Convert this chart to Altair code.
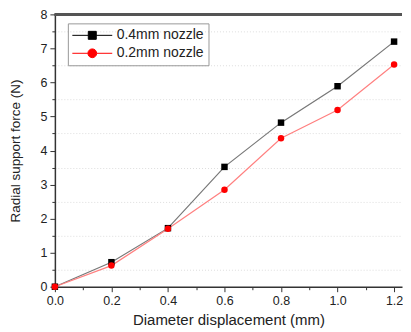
import altair as alt
import pandas as pd

displacement = [0.0, 0.2, 0.4, 0.6, 0.8, 1.0, 1.2]
force_04 = [0.0, 0.72, 1.72, 3.52, 4.82, 5.89, 7.2]
force_02 = [0.0, 0.62, 1.70, 2.85, 4.36, 5.19, 6.53]
series = ["0.4mm nozzle", "0.2mm nozzle"]

rows = []
for s, vals in zip(series, [force_04, force_02]):
    for d, v in zip(displacement, vals):
        rows.append({"d": d, "f": v, "series": s})
df = pd.DataFrame(rows)

FONT = "Liberation Sans"
xticks = [round(i * 0.1, 1) for i in range(13)]
yticks = [i * 0.5 for i in range(17)]
W, H = 348, 273

x_enc = alt.X(
    "d:Q",
    scale=alt.Scale(domain=[0, 1.228], nice=False),
    axis=alt.Axis(
        values=xticks,
        title="Diameter displacement (mm)",
        labelExpr="abs(round(datum.value*10) % 2) == 0 ? format(datum.value, '.1f') : ''",
        tickSize={"condition": {"test": "abs(round(datum.value*10) % 2) == 0", "value": 5}, "value": 3},
        labelOverlap=False,
        labelFlush=False,
        grid=False,
        domainColor="#333333",
        domainWidth=1.5,
        tickColor="#333333",
        labelFont=FONT,
        labelFontSize=12.5,
        labelColor="#222222",
        labelPadding=3,
        titleFont=FONT,
        titleFontSize=15,
        titleFontWeight="normal",
        titleColor="#222222",
        titlePadding=5,
    ),
)
y_enc = alt.Y(
    "f:Q",
    scale=alt.Scale(domain=[0, 8], nice=False),
    axis=alt.Axis(
        values=yticks,
        title="Radial support force (N)",
        labelExpr="datum.value % 1 == 0 ? format(datum.value, 'd') : ''",
        tickSize={"condition": {"test": "datum.value % 1 == 0", "value": 5}, "value": 3},
        labelOverlap=False,
        labelFlush=False,
        grid=True,
        gridColor={"condition": {"test": "datum.value % 1 != 0", "value": "#dddddd"}, "value": "transparent"},
        gridDash=[1, 2],
        gridWidth=1,
        domainColor="#333333",
        domainWidth=1.5,
        tickColor="#333333",
        labelFont=FONT,
        labelFontSize=12.5,
        labelColor="#222222",
        labelPadding=3,
        titleFont=FONT,
        titleFontSize=13.5,
        titleFontWeight="normal",
        titleColor="#222222",
        titlePadding=18,
    ),
)

color_scale = alt.Scale(domain=series, range=["#000000", "#ff0000"])
line_scale = alt.Scale(domain=series, range=["#777777", "#ff8080"])
legend_paths = [
    "M-1,0H-0.2V-0.2H0.2V0.2H-0.2V0H0.2H1",
    "M-1,0H-0.22A0.22,0.22 0 1 1 0.22,0A0.22,0.22 0 1 1 -0.22,0M0.22,0H1",
]

leg = alt.Legend(
    title=None,
    orient="none",
    legendX=13,
    legendY=9,
    strokeColor="#999999",
    padding=4,
    symbolSize=1600,
    symbolStrokeWidth=1,
    clipHeight=16,
    labelFont=FONT,
    labelFontSize=14,
    labelColor="#222222",
    labelOffset=4,
    rowPadding=2,
)

base = alt.Chart(df).encode(x=x_enc, y=y_enc)

lines = base.mark_line(strokeWidth=1.2).encode(
    stroke=alt.Stroke("series:N", scale=line_scale, legend=None),
    detail="series:N",
)

pts = base.mark_point(filled=True, size=42, opacity=1).encode(
    color=alt.Color("series:N", scale=color_scale, legend=None),
    shape=alt.Shape(
        "series:N",
        scale=alt.Scale(domain=series, range=["square", "circle"]),
        legend=None,
    ),
)

legend_layer = (
    base.transform_filter("false")
    .mark_point(filled=False, strokeWidth=1, opacity=1)
    .encode(
        fill=alt.Fill("series:N", scale=color_scale, legend=leg),
        color=alt.Color("series:N", scale=color_scale, legend=leg),
        shape=alt.Shape("series:N", scale=alt.Scale(domain=series, range=legend_paths), legend=leg),
    )
)

top = alt.Chart(df).mark_rule(color="#555555", strokeWidth=2).encode(
    x=alt.value(0), x2=alt.value(W), y=alt.value(0)
)

chart = (
    alt.layer(lines, pts, legend_layer, top)
    .resolve_scale(color="independent", shape="independent", stroke="independent", fill="independent")
    .properties(
        width=W,
        height=H,
        padding={"left": 0, "top": 0, "right": 0, "bottom": 0},
    )
    .configure_view(stroke=None)
)

chart.save("out.html", embed_options={"renderer": "svg", "actions": False})
